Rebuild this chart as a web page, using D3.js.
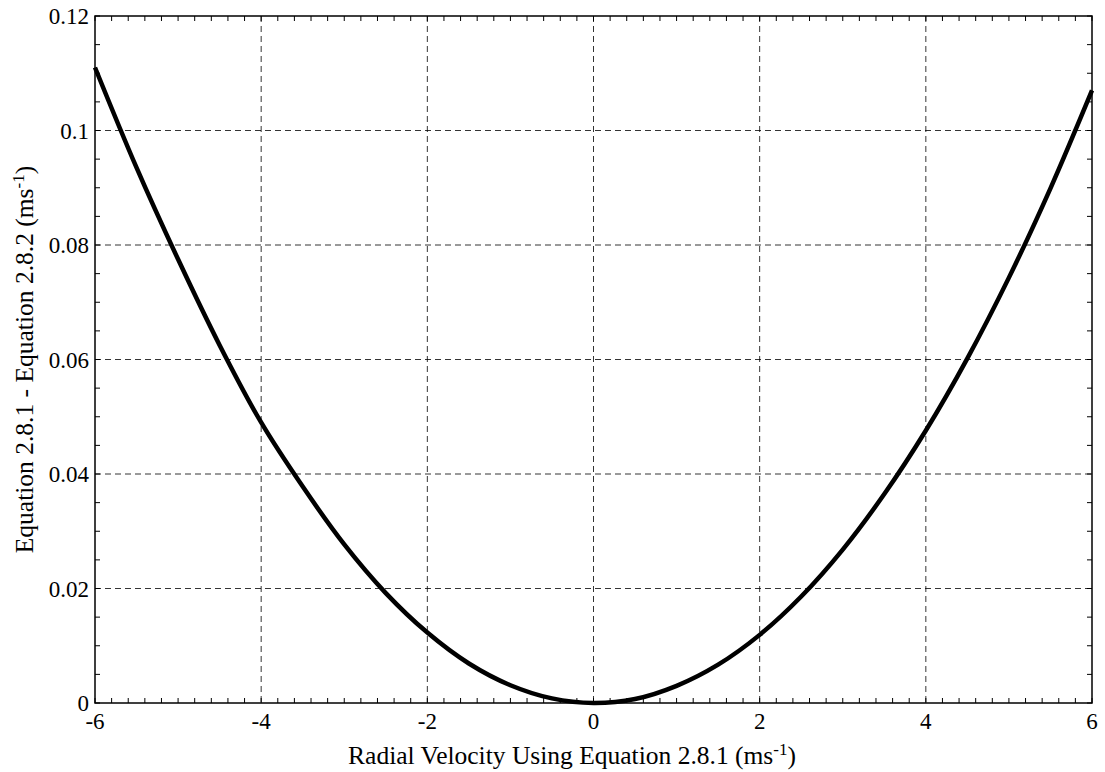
<!DOCTYPE html>
<html>
<head>
<meta charset="utf-8">
<script src="https://d3js.org/d3.v7.min.js"></script>
<style>
  body { margin: 0; background: #fff; }
  text { font-family: "Liberation Serif", "Times New Roman", serif; fill: #000; }
</style>
</head>
<body>
<script>
// valori
var velocity = [-6, -5.5, -5, -4.5, -4, -3.5, -3, -2.5, -2, -1.5, -1, -0.5, 0,
                0.5, 1, 1.5, 2, 2.5, 3, 3.5, 4, 4.5, 5, 5.5, 6];
var difference = [0.111, 0.0935, 0.0775, 0.0625, 0.049, 0.0378, 0.0277, 0.0192, 0.0123,
                  0.0069, 0.0031, 0.0008, 0, 0.0007, 0.0030, 0.0067, 0.0119, 0.0186,
                  0.0268, 0.0365, 0.0476, 0.0602, 0.0743, 0.0899, 0.107];
var xTicks = [-6, -4, -2, 0, 2, 4, 6];
var yTicks = [0, 0.02, 0.04, 0.06, 0.08, 0.1, 0.12];
var yTickLabels = ["0", "0.02", "0.04", "0.06", "0.08", "0.1", "0.12"];

var W = 1105, H = 772;
var margin = { top: 16, right: 13, bottom: 69, left: 95 };
var width = W - margin.left - margin.right;
var height = H - margin.top - margin.bottom;

var svg = d3.select("body").append("svg")
  .attr("width", W).attr("height", H);

var g = svg.append("g")
  .attr("transform", "translate(" + margin.left + "," + margin.top + ")");

var x = d3.scaleLinear().domain([-6, 6]).range([0, width]);
var y = d3.scaleLinear().domain([0, 0.12]).range([height, 0]);

// griglia tratteggiata
g.selectAll(".vgrid").data(xTicks.slice(1, -1)).enter().append("line")
  .attr("x1", d => x(d)).attr("x2", d => x(d))
  .attr("y1", 0).attr("y2", height)
  .attr("stroke", "#000").attr("stroke-width", 0.8)
  .attr("stroke-dasharray", "6,4");
g.selectAll(".hgrid").data(yTicks.slice(1, -1)).enter().append("line")
  .attr("x1", 0).attr("x2", width)
  .attr("y1", d => y(d)).attr("y2", d => y(d))
  .attr("stroke", "#000").attr("stroke-width", 0.8)
  .attr("stroke-dasharray", "6,4");

// tacche minori e maggiori, verso l'interno, su tutti i lati
var xMinor = d3.range(-6, 6.001, 0.2);
var yMinor = d3.range(0, 0.12001, 0.005);
var tk = 5;

g.selectAll(".xt").data(xMinor).enter().append("line")
  .attr("x1", d => x(d)).attr("x2", d => x(d))
  .attr("y1", height).attr("y2", height - tk)
  .attr("stroke", "#000").attr("stroke-width", 1);
g.selectAll(".xtt").data(xMinor).enter().append("line")
  .attr("x1", d => x(d)).attr("x2", d => x(d))
  .attr("y1", 0).attr("y2", tk)
  .attr("stroke", "#000").attr("stroke-width", 1);
g.selectAll(".yt").data(yMinor).enter().append("line")
  .attr("x1", 0).attr("x2", tk)
  .attr("y1", d => y(d)).attr("y2", d => y(d))
  .attr("stroke", "#000").attr("stroke-width", 1);
g.selectAll(".ytr").data(yMinor).enter().append("line")
  .attr("x1", width).attr("x2", width - tk)
  .attr("y1", d => y(d)).attr("y2", d => y(d))
  .attr("stroke", "#000").attr("stroke-width", 1);

// curva
var line = d3.line()
  .x((d, i) => x(velocity[i]))
  .y(d => y(d))
  .curve(d3.curveCatmullRom);

g.append("path")
  .datum(difference)
  .attr("d", line)
  .attr("fill", "none")
  .attr("stroke", "#000")
  .attr("stroke-width", 4.5)
  .attr("stroke-linejoin", "round");

// cornice
g.append("rect")
  .attr("width", width).attr("height", height)
  .attr("fill", "none").attr("stroke", "#000").attr("stroke-width", 1.5);

// etichette
g.selectAll(".xl").data(xTicks).enter().append("text")
  .attr("x", d => x(d)).attr("y", height + 26)
  .attr("text-anchor", "middle")
  .style("font-size", "23px")
  .text(d => d);

g.selectAll(".yl").data(yTicks).enter().append("text")
  .attr("x", -6).attr("y", d => y(d) + 8)
  .attr("text-anchor", "end")
  .style("font-size", "23px")
  .text((d, i) => yTickLabels[i]);

// titoli degli assi
var xt = svg.append("text")
  .attr("x", 572).attr("y", 764)
  .attr("text-anchor", "middle")
  .style("font-size", "25.5px");
xt.append("tspan").text("Radial Velocity Using Equation 2.8.1 (ms");
xt.append("tspan").attr("dy", -9).style("font-size", "17px").text("-1");
xt.append("tspan").attr("dy", 9).text(")");

var yt = svg.append("text")
  .attr("transform", "translate(33," + (margin.top + height / 2) + ") rotate(-90)")
  .attr("text-anchor", "middle")
  .style("font-size", "25.5px");
yt.append("tspan").text("Equation 2.8.1 - Equation 2.8.2 (ms");
yt.append("tspan").attr("dy", -9).style("font-size", "17px").text("-1");
yt.append("tspan").attr("dy", 9).text(")");
</script>
</body>
</html>
